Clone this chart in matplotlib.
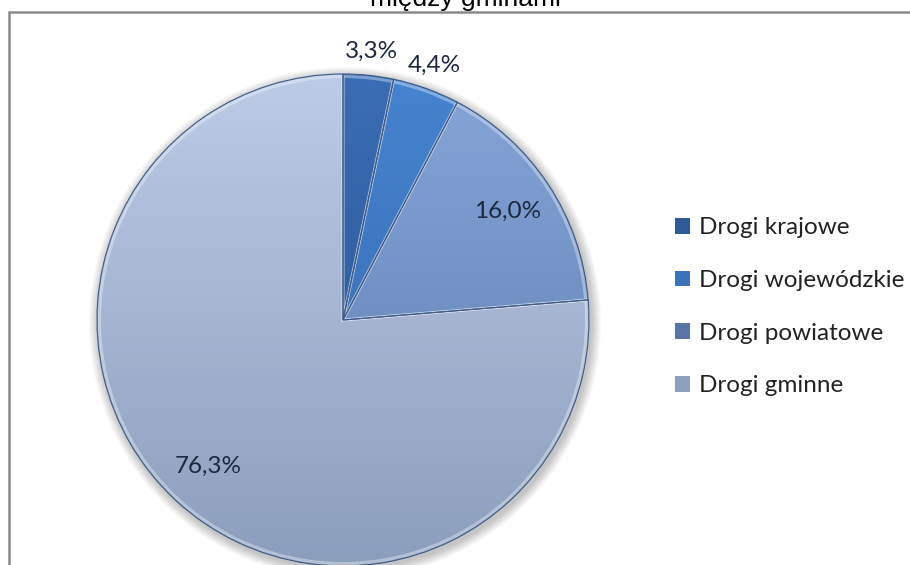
import numpy as np
import matplotlib
import matplotlib.pyplot as plt
from matplotlib.colors import LinearSegmentedColormap
from matplotlib.patches import Circle, Wedge

matplotlib.use("Agg")

categories = ["Drogi krajowe", "Drogi wojewódzkie", "Drogi powiatowe", "Drogi gminne"]
shares = [3.3, 4.4, 16.0, 76.3]
title = "między gminami"

# gradient kazdego wycinka: kolor u gory i u dolu kola
top_colors = ["#3a6db5", "#4683d0", "#86a6d8", "#bccbe6"]
bottom_colors = ["#28528c", "#3465a8", "#5a79b0", "#8c9ebd"]
legend_colors = ["#2d5a98", "#3b73ba", "#5874a8", "#8f9fbe"]
label_dist = [1.10, 1.10, 0.80, 0.81]

W, H = 910, 565
cx, cy, r = 343, H - 320, 246

fig = plt.figure(figsize=(W / 100, H / 100), dpi=100)
ax = fig.add_axes([0, 0, 1, 1])

# miekki cien pod kolem
for k in range(10):
    ax.add_patch(Circle((cx + 2, cy - 3), r + 1 + k * 1.0, facecolor="black",
                        edgecolor="none", alpha=0.025, zorder=0))

wedges, texts, autotexts = ax.pie(
    shares, startangle=90, counterclock=False, center=(cx, cy), radius=r,
    colors=legend_colors, frame=True,
    autopct=lambda p: f"{p:.1f}%".replace(".", ","),
    wedgeprops=dict(edgecolor="none", zorder=1),
    textprops=dict(fontsize=17.5, family="Lato", color="#1c2840"))

grad = np.linspace(0, 1, 256).reshape(-1, 1)
for w, ctop, cbot in zip(wedges, top_colors, bottom_colors):
    cmap = LinearSegmentedColormap.from_list("slice", [cbot, ctop])
    im = ax.imshow(grad, cmap=cmap, origin="lower", aspect="auto",
                   extent=(cx - r, cx + r, cy - r, cy + r), zorder=2)
    im.set_clip_path(w)
    # jasna krawedz (faza) i ciemny kontur
    ax.add_patch(Wedge((cx, cy), r - 2.5, w.theta1, w.theta2, facecolor="none",
                       edgecolor=(1, 1, 1, 0.35), linewidth=2.2, zorder=3))
    ax.add_patch(Wedge((cx, cy), r, w.theta1, w.theta2, facecolor="none",
                       edgecolor="#3f5b86", linewidth=0.8, zorder=4))

for w, t, d in zip(wedges, autotexts, label_dist):
    ang = np.deg2rad((w.theta1 + w.theta2) / 2)
    t.set_position((cx + d * r * np.cos(ang), cy + d * r * np.sin(ang)))
    t.set_zorder(5)

ax.legend(wedges, categories, loc="center left", bbox_to_anchor=(0.742, 0.457),
          frameon=False, borderpad=0, borderaxespad=0, handlelength=0.62,
          handleheight=0.62, handletextpad=0.35, labelspacing=1.3,
          prop=dict(family="Lato", size=17.5), labelcolor="#222222")

# ramka wykresu (lewa i gorna krawedz)
ax.plot([9, 9, W], [0, H - 12, H - 12], color="#8a8a8a", linewidth=1.8,
        solid_joinstyle="miter", zorder=6)

ax.text(465, H - 6, title, ha="center", va="baseline", fontsize=19,
        family="Liberation Sans", color="black")

ax.set_xlim(0, W)
ax.set_ylim(0, H)
ax.set_aspect("equal")
ax.axis("off")

fig.savefig("out.png", dpi=100)
plt.close(fig)
